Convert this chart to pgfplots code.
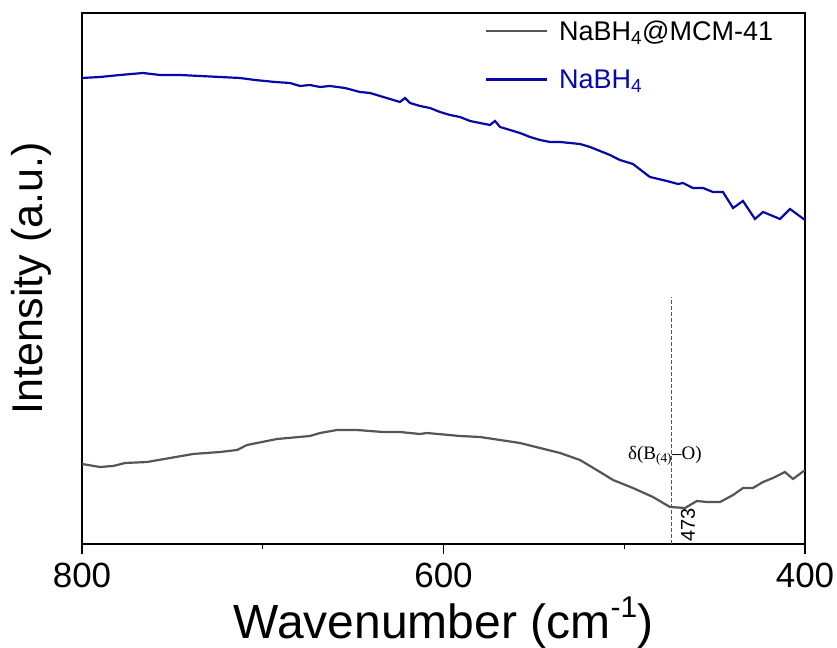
\documentclass[border=0pt]{standalone}
\usepackage{fontspec}
\setmainfont{Liberation Sans}
\newfontfamily\seriffont{Liberation Serif}
\usepackage{pgfplots}
\pgfplotsset{compat=1.18}
\definecolor{nablue}{RGB}{8,8,168}
\definecolor{mcmgray}{RGB}{85,85,85}

\begin{document}
\begin{tikzpicture}
\begin{axis}[
  name=ax,
  width=723bp, height=531bp, scale only axis,
  xmin=400, xmax=800, x dir=reverse,
  ymin=0, ymax=531,
  xtick={400,600,800}, minor xtick={500,700},
  ytick=\empty,
  xtick pos=bottom,
  tick align=outside,
  major tick length=10bp, minor tick length=5bp,
  axis line style={line width=1.3bp},
  every tick/.append style={black, line width=1.3bp},
  /pgf/number format/assume math mode=true,
  xticklabel style={font=\fontsize{35bp}{42bp}\selectfont, inner sep=0pt, yshift=-9bp},
  xlabel={Wavenumber (cm\raisebox{0.42em}{\fontsize{30bp}{30bp}\selectfont -1})},
  xlabel style={font=\fontsize{48bp}{56bp}\selectfont, at={([yshift=-94bp]axis description cs:0.5,0)}, anchor=base, inner sep=0pt},
  ylabel={Intensity (a.u.)},
  ylabel style={font=\fontsize{43bp}{50bp}\selectfont, at={([xshift=-39bp]axis description cs:0,0.5)}, anchor=base, inner sep=0pt},
  legend style={draw=none, fill=none, at={(axis description cs:0.557,0.99)}, anchor=north west,
    font=\fontsize{27bp}{32bp}\selectfont, row sep=24bp, column sep=9bp, inner sep=0pt},
  legend cell align=left,
  legend image code/.code={\draw[#1] (0bp,0bp) -- (61bp,0bp);},
]
% NaBH4@MCM-41
\addplot[mcmgray, line width=2.2bp] coordinates {
(800,80) (790.0,77) (782.8,78) (776.2,81) (764.0,82) (751.3,86) (738.6,90)
(723.7,92) (714.2,94) (708.7,99) (692.1,105) (673.9,108) (668.3,111)
(658.9,114) (647.9,114) (633.5,112) (624.1,112) (613.0,110) (609.1,111)
(590.9,108) (579.8,107) (568.7,104) (557.7,101) (546.6,96) (535.5,91)
(524.5,84) (513.4,72) (506.2,64) (495.2,56) (484.1,47) (474.7,37)
(466.4,36) (459.8,43) (454.2,42) (447.0,42) (439.8,49) (434.3,56)
(428.8,56) (423.2,62) (417.7,66) (411.1,72) (406.6,65) (400,74)
};
\addlegendentry{NaBH\textsubscript{4}@MCM-41}
% NaBH4
\addplot[nablue, line width=2.2bp] coordinates {
(800,466) (790.0,467) (779.0,469) (766.3,471) (756.8,469) (745.8,469)
(734.7,468) (723.7,467) (712.6,466) (704.3,464) (693.2,462) (684.9,461)
(679.4,458) (673.9,459) (668.3,457) (662.8,458) (654.5,456) (646.2,452)
(640.7,451) (635.1,448) (629.6,445) (624.1,442) (621.3,446) (618.5,441)
(613.0,438) (607.5,436) (601.9,432) (596.4,429) (590.9,427) (585.3,423)
(579.8,421) (574.3,419) (571.5,423) (568.7,417) (563.2,414) (557.7,411)
(552.1,407) (546.6,404) (541.1,402) (535.5,402) (530.0,401) (524.5,400)
(518.9,397) (513.4,393) (507.9,389) (502.4,384) (495.2,380) (485.8,367)
(476.4,363) (470.3,360) (467.5,361) (462.0,356) (456.4,356) (450.9,352)
(445.4,352) (439.8,336) (434.3,343) (427.7,325) (423.2,332) (413.8,325)
(408.3,335) (400,324)
};
\addlegendentry{\textcolor{nablue}{NaBH\textsubscript{4}}}
% 473 marker
\addplot[mcmgray, line width=0.7bp, dash pattern=on 4bp off 2bp, forget plot] coordinates {(474,0) (474,247)};
\node[font=\seriffont\fontsize{19bp}{22bp}\selectfont, anchor=base, inner sep=0pt] at (axis cs:477.5,85) {δ(B\textsubscript{(4)}–O)};
\node[font=\fontsize{20bp}{24bp}\selectfont, rotate=90, inner sep=0pt] at (axis cs:464.7,19) {473};
\end{axis}
\pgfresetboundingbox
\path[use as bounding box] ([shift={(-82bp,-104bp)}]ax.south west) rectangle ([shift={(32bp,13bp)}]ax.north east);
\end{tikzpicture}
\end{document}
